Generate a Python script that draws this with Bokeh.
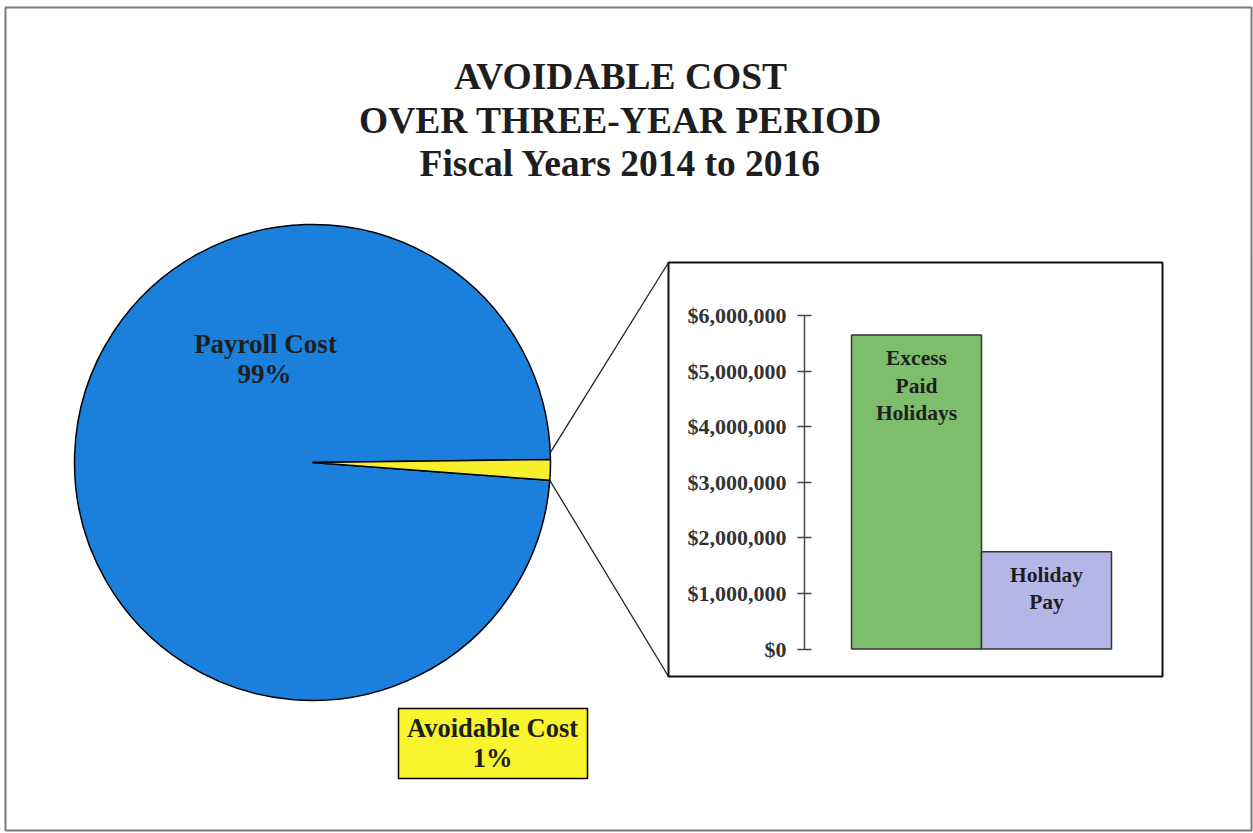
import math
from bokeh.plotting import figure
from bokeh.models import Range1d, LinearAxis, FixedTicker, NumeralTickFormatter, ColumnDataSource
from bokeh.core.properties import value
from bokeh.embed import file_html
from bokeh.resources import INLINE

# ---------------- data ----------------
TITLE_LINES = ["AVOIDABLE COST", "OVER THREE-YEAR PERIOD", "Fiscal Years 2014 to 2016"]
PIE_LABELS = ["Payroll Cost", "Avoidable Cost"]
PIE_SHARES = [98.6, 1.4]          # share of the pie
PIE_PCT_LABELS = ["99%", "1%"]
PIE_COLORS = ["#1a80dc", "#f7ee2c"]

BAR_CATEGORIES = ["Excess Paid Holidays", "Holiday Pay"]
BAR_LABELS = ["Excess\nPaid\nHolidays", "Holiday\nPay"]
BAR_VALUES = [5650000, 1750000]
BAR_COLORS = ["#7dbe6c", "#b4b6e6"]
BAR_TICKS = [0, 1000000, 2000000, 3000000, 4000000, 5000000, 6000000]

W, H = 1253, 833
SERIF = value("Liberation Serif")
INK = "#1e1e1e"

p = figure(width=W, height=H, x_range=Range1d(0, W), y_range=Range1d(H, 0),
           output_backend="svg", toolbar_location=None, x_axis_type=None,
           y_axis_type=None, title=None, min_border=0, outline_line_color=None,
           background_fill_color="white", border_fill_color="white")

# bar chart scales (placed inside the zoom box)
zero_px, top_px = 648.5, 315.0
ppu = (zero_px - top_px) / BAR_TICKS[-1]
p.extra_y_ranges = {"bar": Range1d(start=-(H - zero_px) / ppu, end=zero_px / ppu)}
bar_px = 130.0
first_center = 916.0
x0 = -first_center / bar_px
p.extra_x_ranges = {"bar": Range1d(start=x0, end=x0 + W / bar_px)}

# outer border
p.quad(left=[5], right=[1251], top=[7], bottom=[830], fill_color=None,
       line_color="#7a7a7a", line_width=2)

# title
p.text(x=[620] * 3, y=[76, 120, 163], text=TITLE_LINES, text_font=SERIF,
       text_font_style="bold", text_font_size="37.5px", text_align="center",
       text_baseline="alphabetic", text_color=INK)

# pie
cx, cy, r = 312, 462, 238
a0 = math.radians(-4.3)
total = sum(PIE_SHARES)
av_span = 2 * math.pi * PIE_SHARES[1] / total
p.wedge(x=[cx], y=[cy], radius=r, start_angle=[a0 + av_span], end_angle=[a0 + 2 * math.pi],
        fill_color=PIE_COLORS[0], line_color="black", line_width=1.5)
p.wedge(x=[cx], y=[cy], radius=r, start_angle=[a0], end_angle=[a0 + av_span],
        fill_color=PIE_COLORS[1], line_color="black", line_width=1.5)

# pie labels
p.text(x=[265, 264], y=[343, 373], text=[PIE_LABELS[0], PIE_PCT_LABELS[0]], text_font=SERIF,
       text_font_style="bold", text_font_size="27px", text_align="center",
       text_baseline="alphabetic", text_color=INK)
p.quad(left=[398], right=[587], top=[708], bottom=[778], fill_color="#f8f42e",
       line_color="black", line_width=1.5)
p.text(x=[492, 492], y=[727, 757], text=[PIE_LABELS[1], PIE_PCT_LABELS[1]], text_font=SERIF,
       text_font_style="bold", text_font_size="26.5px", text_align="center",
       text_baseline="alphabetic", text_color=INK)

# zoom box and connector lines
bl, br, bt, bb = 668, 1162, 262, 676
top_edge = (cx + r * math.cos(a0 + av_span), cy - r * math.sin(a0 + av_span) - 7)
bot_edge = (cx + r * math.cos(a0), cy - r * math.sin(a0))
p.segment(x0=[top_edge[0], bot_edge[0]], y0=[top_edge[1], bot_edge[1]],
          x1=[bl, bl], y1=[bt, bb], line_color="#222222", line_width=1.3)
p.quad(left=[bl], right=[br], top=[bt], bottom=[bb], fill_color="white",
       line_color="#111111", line_width=2)

# bars
src = ColumnDataSource(dict(x=list(range(len(BAR_CATEGORIES))), top=BAR_VALUES,
                            color=BAR_COLORS, label=BAR_LABELS, cat=BAR_CATEGORIES))
p.vbar(x="x", top="top", bottom=0, width=1.0, fill_color="color", line_color="#333333",
       line_width=1.5, source=src, x_range_name="bar", y_range_name="bar")
p.text(x="x", y="top", text="label", source=src, x_range_name="bar", y_range_name="bar",
       text_font=SERIF, text_font_style="bold", text_font_size="21.5px",
       text_align="center", text_baseline="top", text_line_height=1.15,
       y_offset=11, text_color=INK)

axis = LinearAxis(y_range_name="bar", fixed_location=804, bounds=(0, BAR_TICKS[-1]),
                  ticker=FixedTicker(ticks=BAR_TICKS),
                  formatter=NumeralTickFormatter(format="$0,0"))
axis.major_tick_in = 7
axis.major_tick_out = 7
axis.minor_tick_line_color = None
axis.axis_line_color = "#444444"
axis.axis_line_width = 1.5
axis.major_tick_line_color = "#444444"
axis.major_tick_line_width = 1.5
axis.major_label_text_font = "Liberation Serif"
axis.major_label_text_font_style = "bold"
axis.major_label_text_font_size = "22px"
axis.major_label_text_color = "#333333"
axis.major_label_standoff = 11
p.add_layout(axis, "left")

open("out.html", "w").write(file_html(p, INLINE))
